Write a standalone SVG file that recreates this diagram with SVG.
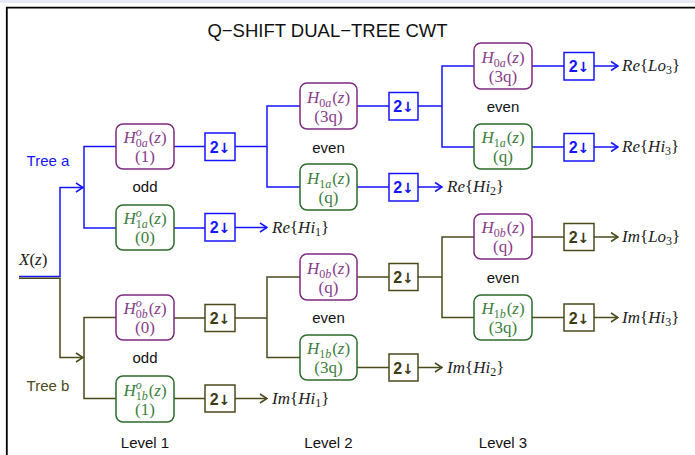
<svg xmlns="http://www.w3.org/2000/svg" width="695" height="455" viewBox="0 0 695 455">
  <style>
    .ln{fill:none;stroke-width:1.5}
    .a{stroke:#1515ff}
    .b{stroke:#4b4a1c}
    .f0{fill:#fff;stroke:#7d2a80;stroke-width:1.5}
    .f1{fill:#fff;stroke:#2d6a2d;stroke-width:1.5}
    .ds{fill:#fff;stroke-width:1.5}
    .m{font-family:"Liberation Serif","DejaVu Serif",serif;font-size:17px;text-anchor:middle}
    .o{font-family:"Liberation Serif","DejaVu Serif",serif;font-size:17px}
    .it{font-style:italic}
    .s{font-size:12px}
    .p0{fill:#8a3d8c}
    .p1{fill:#3d803d}
    .sans{font-family:"Liberation Sans",Arial,sans-serif;font-size:15px;text-anchor:middle}
    .d{font-family:"Liberation Sans",Arial,sans-serif;font-size:16px;font-weight:bold;text-anchor:middle}
    .ar{font-family:"DejaVu Sans",sans-serif;font-size:14px;font-weight:bold}
    .ta{fill:#1515ff}
    .tb{fill:#3d3c14}
  </style>
  <defs>
    <marker id="arrA" markerUnits="userSpaceOnUse" markerWidth="10" markerHeight="12" viewBox="0 0 10 12" refX="9" refY="6" orient="auto">
      <path d="M2,1.5 L9,6 L2,10.5" fill="none" stroke="#1515ff" stroke-width="1.5"/>
    </marker>
    <marker id="arrB" markerUnits="userSpaceOnUse" markerWidth="10" markerHeight="12" viewBox="0 0 10 12" refX="9" refY="6" orient="auto">
      <path d="M2,1.5 L9,6 L2,10.5" fill="none" stroke="#4b4a1c" stroke-width="1.5"/>
    </marker>
  </defs>

  <!-- page frame -->
  <rect x="0" y="0" width="695" height="455" fill="#fff"/>
  <rect x="0" y="0" width="695" height="3" fill="#e8eaf6"/>
  <path d="M6.8,455 V7.6 H695" fill="none" stroke="#000" stroke-width="1.8"/>

  <text x="327.5" y="37" font-family="'Liberation Sans',Arial,sans-serif" font-size="18.5" text-anchor="middle" fill="#111">Q−SHIFT DUAL−TREE CWT</text>

  <!-- connectors -->
  <g id="connectors">
    <!-- input split -->
    <path class="ln a" d="M19,276.6 H60 V187.5 H83" marker-end="url(#arrA)"/>
    <path class="ln b" d="M19,278.3 H60 V357.5 H83" marker-end="url(#arrB)"/>
    <!-- tree a -->
    <path class="ln a" d="M116,146.5 H84 V228 H116"/>
    <path class="ln a" d="M174,146.5 H205 M235,146.5 H267"/>
    <path class="ln a" d="M300,106 H267 V187 H300"/>
    <path class="ln a" d="M357,106 H389 M418,106 H442"/>
    <path class="ln a" d="M474,66 H442 V147 H474"/>
    <path class="ln a" d="M532,66 H564 M532,147 H564 M357,187 H389 M174,228 H205"/>
    <path class="ln a" d="M594,66 H618" marker-end="url(#arrA)"/>
    <path class="ln a" d="M594,147 H618" marker-end="url(#arrA)"/>
    <path class="ln a" d="M418,187 H442" marker-end="url(#arrA)"/>
    <path class="ln a" d="M235,227.5 H267" marker-end="url(#arrA)"/>
    <!-- tree b -->
    <path class="ln b" d="M116,317.5 H84 V398.5 H116"/>
    <path class="ln b" d="M174,318 H205 M235,318 H267"/>
    <path class="ln b" d="M300,277 H267 V357.5 H300"/>
    <path class="ln b" d="M357,277 H389 M418,277 H442"/>
    <path class="ln b" d="M474,237 H442 V317.5 H474"/>
    <path class="ln b" d="M532,237 H564 M532,317.5 H564 M357,367.5 H389 M174,398.5 H205"/>
    <path class="ln b" d="M594,237 H618" marker-end="url(#arrB)"/>
    <path class="ln b" d="M594,317.5 H618" marker-end="url(#arrB)"/>
    <path class="ln b" d="M418,367.5 H442" marker-end="url(#arrB)"/>
    <path class="ln b" d="M235,398.5 H267" marker-end="url(#arrB)"/>
  </g>

  <!-- side labels -->
  <text class="o" x="19" y="265" fill="#222"><tspan class="it">X</tspan>(<tspan class="it">z</tspan>)</text>
  <text class="sans ta" x="48" y="166">Tree a</text>
  <text class="sans" x="48" y="391" fill="#4b4a1c">Tree b</text>

  <!-- tree a, level 1 -->
  <g id="h0a_o">
    <rect class="f0" x="116" y="124" width="58" height="45" rx="7"/>
    <text class="m p0" x="145" y="143"><tspan class="it">H</tspan><tspan class="s it" dy="-7">o</tspan><tspan class="s" dx="-6" dy="11">0<tspan class="it">a</tspan></tspan><tspan dx="1" dy="-4">(</tspan><tspan class="it">z</tspan>)</text>
    <text class="m p0" x="145" y="162">(1)</text>
  </g>
  <g id="ds_a1"><rect class="ds a" x="205" y="133" width="30" height="27.5"/><text class="d ta" x="220" y="152.5">2<tspan class="ar">↓</tspan></text></g>
  <g id="h1a_o">
    <rect class="f1" x="116" y="205" width="58" height="45" rx="7"/>
    <text class="m p1" x="145" y="224"><tspan class="it">H</tspan><tspan class="s it" dy="-7">o</tspan><tspan class="s" dx="-6" dy="11">1<tspan class="it">a</tspan></tspan><tspan dx="1" dy="-4">(</tspan><tspan class="it">z</tspan>)</text>
    <text class="m p1" x="145" y="243">(0)</text>
  </g>
  <g id="ds_a1h"><rect class="ds a" x="205" y="213.5" width="30" height="27.5"/><text class="d ta" x="220" y="233">2<tspan class="ar">↓</tspan></text></g>
  <text class="o" x="272" y="232.5" fill="#222"><tspan class="it">Re</tspan>{<tspan class="it">Hi</tspan><tspan class="s" dy="3">1</tspan><tspan dy="-3">}</tspan></text>
  <text class="sans" x="145" y="192" fill="#111">odd</text>

  <!-- tree a, level 2 -->
  <g id="h0a_2">
    <rect class="f0" x="300" y="83" width="57" height="46" rx="7"/>
    <text class="m p0" x="328.5" y="102.5"><tspan class="it">H</tspan><tspan class="s" dy="4">0<tspan class="it">a</tspan></tspan><tspan dx="1" dy="-4">(</tspan><tspan class="it">z</tspan>)</text>
    <text class="m p0" x="328.5" y="121.5">(3q)</text>
  </g>
  <g id="ds_a2"><rect class="ds a" x="389" y="92.5" width="29" height="27.5"/><text class="d ta" x="403.5" y="112">2<tspan class="ar">↓</tspan></text></g>
  <g id="h1a_2">
    <rect class="f1" x="300" y="164" width="57" height="46" rx="7"/>
    <text class="m p1" x="328.5" y="183.5"><tspan class="it">H</tspan><tspan class="s" dy="4">1<tspan class="it">a</tspan></tspan><tspan dx="1" dy="-4">(</tspan><tspan class="it">z</tspan>)</text>
    <text class="m p1" x="328.5" y="202.5">(q)</text>
  </g>
  <g id="ds_a2h"><rect class="ds a" x="389" y="173.5" width="29" height="27.5"/><text class="d ta" x="403.5" y="193">2<tspan class="ar">↓</tspan></text></g>
  <text class="o" x="447" y="192" fill="#222"><tspan class="it">Re</tspan>{<tspan class="it">Hi</tspan><tspan class="s" dy="3">2</tspan><tspan dy="-3">}</tspan></text>
  <text class="sans" x="328.5" y="153" fill="#111">even</text>

  <!-- tree a, level 3 -->
  <g id="h0a_3">
    <rect class="f0" x="474" y="43" width="58" height="46" rx="7"/>
    <text class="m p0" x="503" y="62.5"><tspan class="it">H</tspan><tspan class="s" dy="4">0<tspan class="it">a</tspan></tspan><tspan dx="1" dy="-4">(</tspan><tspan class="it">z</tspan>)</text>
    <text class="m p0" x="503" y="81.5">(3q)</text>
  </g>
  <g id="ds_a3l"><rect class="ds a" x="564" y="52.5" width="30" height="27.5"/><text class="d ta" x="579" y="72">2<tspan class="ar">↓</tspan></text></g>
  <text class="o" x="622" y="71" fill="#222"><tspan class="it">Re</tspan>{<tspan class="it">Lo</tspan><tspan class="s" dy="3">3</tspan><tspan dy="-3">}</tspan></text>
  <g id="h1a_3">
    <rect class="f1" x="474" y="124" width="58" height="45" rx="7"/>
    <text class="m p1" x="503" y="143"><tspan class="it">H</tspan><tspan class="s" dy="4">1<tspan class="it">a</tspan></tspan><tspan dx="1" dy="-4">(</tspan><tspan class="it">z</tspan>)</text>
    <text class="m p1" x="503" y="162">(q)</text>
  </g>
  <g id="ds_a3h"><rect class="ds a" x="564" y="133.5" width="30" height="27.5"/><text class="d ta" x="579" y="153">2<tspan class="ar">↓</tspan></text></g>
  <text class="o" x="622" y="152" fill="#222"><tspan class="it">Re</tspan>{<tspan class="it">Hi</tspan><tspan class="s" dy="3">3</tspan><tspan dy="-3">}</tspan></text>
  <text class="sans" x="503" y="112" fill="#111">even</text>

  <!-- tree b, level 1 -->
  <g id="h0b_o">
    <rect class="f0" x="116" y="295" width="58" height="45" rx="7"/>
    <text class="m p0" x="145" y="314"><tspan class="it">H</tspan><tspan class="s it" dy="-7">o</tspan><tspan class="s" dx="-6" dy="11">0<tspan class="it">b</tspan></tspan><tspan dx="1" dy="-4">(</tspan><tspan class="it">z</tspan>)</text>
    <text class="m p0" x="145" y="333">(0)</text>
  </g>
  <g id="ds_b1"><rect class="ds b" x="205" y="304.5" width="30" height="27"/><text class="d tb" x="220" y="324">2<tspan class="ar">↓</tspan></text></g>
  <g id="h1b_o">
    <rect class="f1" x="116" y="376" width="58" height="46" rx="7"/>
    <text class="m p1" x="145" y="395.5"><tspan class="it">H</tspan><tspan class="s it" dy="-7">o</tspan><tspan class="s" dx="-6" dy="11">1<tspan class="it">b</tspan></tspan><tspan dx="1" dy="-4">(</tspan><tspan class="it">z</tspan>)</text>
    <text class="m p1" x="145" y="414.5">(1)</text>
  </g>
  <g id="ds_b1h"><rect class="ds b" x="205" y="385" width="30" height="27"/><text class="d tb" x="220" y="404.5">2<tspan class="ar">↓</tspan></text></g>
  <text class="o" x="272" y="403.5" fill="#222"><tspan class="it">Im</tspan>{<tspan class="it">Hi</tspan><tspan class="s" dy="3">1</tspan><tspan dy="-3">}</tspan></text>
  <text class="sans" x="145" y="363" fill="#111">odd</text>

  <!-- tree b, level 2 -->
  <g id="h0b_2">
    <rect class="f0" x="300" y="254" width="57" height="46" rx="7"/>
    <text class="m p0" x="328.5" y="273.5"><tspan class="it">H</tspan><tspan class="s" dy="4">0<tspan class="it">b</tspan></tspan><tspan dx="1" dy="-4">(</tspan><tspan class="it">z</tspan>)</text>
    <text class="m p0" x="328.5" y="292.5">(q)</text>
  </g>
  <g id="ds_b2"><rect class="ds b" x="389" y="263.5" width="29" height="27"/><text class="d tb" x="403.5" y="283">2<tspan class="ar">↓</tspan></text></g>
  <g id="h1b_2">
    <rect class="f1" x="300" y="335" width="57" height="45" rx="7"/>
    <text class="m p1" x="328.5" y="354"><tspan class="it">H</tspan><tspan class="s" dy="4">1<tspan class="it">b</tspan></tspan><tspan dx="1" dy="-4">(</tspan><tspan class="it">z</tspan>)</text>
    <text class="m p1" x="328.5" y="373">(3q)</text>
  </g>
  <g id="ds_b2h"><rect class="ds b" x="389" y="354" width="29" height="27"/><text class="d tb" x="403.5" y="373.5">2<tspan class="ar">↓</tspan></text></g>
  <text class="o" x="447" y="372.5" fill="#222"><tspan class="it">Im</tspan>{<tspan class="it">Hi</tspan><tspan class="s" dy="3">2</tspan><tspan dy="-3">}</tspan></text>
  <text class="sans" x="328.5" y="323" fill="#111">even</text>

  <!-- tree b, level 3 -->
  <g id="h0b_3">
    <rect class="f0" x="474" y="214" width="58" height="45" rx="7"/>
    <text class="m p0" x="503" y="233"><tspan class="it">H</tspan><tspan class="s" dy="4">0<tspan class="it">b</tspan></tspan><tspan dx="1" dy="-4">(</tspan><tspan class="it">z</tspan>)</text>
    <text class="m p0" x="503" y="252">(q)</text>
  </g>
  <g id="ds_b3l"><rect class="ds b" x="564" y="223.5" width="30" height="27"/><text class="d tb" x="579" y="243">2<tspan class="ar">↓</tspan></text></g>
  <text class="o" x="622" y="242" fill="#222"><tspan class="it">Im</tspan>{<tspan class="it">Lo</tspan><tspan class="s" dy="3">3</tspan><tspan dy="-3">}</tspan></text>
  <g id="h1b_3">
    <rect class="f1" x="474" y="295" width="58" height="45" rx="7"/>
    <text class="m p1" x="503" y="314"><tspan class="it">H</tspan><tspan class="s" dy="4">1<tspan class="it">b</tspan></tspan><tspan dx="1" dy="-4">(</tspan><tspan class="it">z</tspan>)</text>
    <text class="m p1" x="503" y="333">(3q)</text>
  </g>
  <g id="ds_b3h"><rect class="ds b" x="564" y="304" width="30" height="27"/><text class="d tb" x="579" y="323.5">2<tspan class="ar">↓</tspan></text></g>
  <text class="o" x="622" y="322.5" fill="#222"><tspan class="it">Im</tspan>{<tspan class="it">Hi</tspan><tspan class="s" dy="3">3</tspan><tspan dy="-3">}</tspan></text>
  <text class="sans" x="503" y="283" fill="#111">even</text>

  <!-- level captions -->
  <text class="sans" x="145" y="448" fill="#111">Level 1</text>
  <text class="sans" x="328.5" y="448" fill="#111">Level 2</text>
  <text class="sans" x="503" y="448" fill="#111">Level 3</text>
</svg>
